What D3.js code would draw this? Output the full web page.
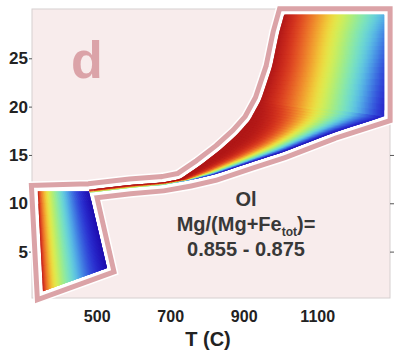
<!DOCTYPE html>
<html>
<head>
<meta charset="utf-8">
<script src="https://cdn.jsdelivr.net/npm/d3@7"></script>
<style>
  body { margin: 0; background: #fff; }
  svg text { font-family: "Liberation Sans", Arial, sans-serif; font-weight: bold; }
</style>
</head>
<body>
<div id="chart"></div>
<script>
// ---------- DATA (T in C, P) ----------
const xTicks = [500, 700, 900, 1100];
const yTicks = [5, 10, 15, 20, 25];

// low-T field (left block): cold edge and hot edge, top -> bottom
const leftEdge = [[339.5, 11.25], [353.8, 0.9]];
const rightEdge = [[479.0, 11.25], [528.0, 3.3]];

// high-T field, read as matched pairs across the field (upper edge <-> lower/right edge)
const upperT = [479, 590.6, 680, 727, 781, 835.5, 882, 917, 947, 977, 996, 1010];
const upperP = [11.4, 11.9, 12.15, 12.5, 13.9, 15.5, 17.1, 18.6, 20.7, 24.1, 27.6, 29.5];
const lowerT = [481, 590.6, 680, 754, 822, 917, 1007, 1143, 1282, 1282, 1282, 1282];
const lowerP = [11.1, 11.6, 11.9, 12.4, 13.0, 14.2, 15.3, 17.3, 19.0, 24.1, 27.6, 29.5];
// colour spread along each pair (how fast it leaves red, and how far toward blue it reaches)
const fieldGamma = [2.6, 2.6, 2.6, 2.8, 3.0, 3.0, 2.7, 1.8, 1.05, 1.0, 0.95, 0.9];
const fieldMax = [0.6, 0.6, 0.7, 0.9, 1, 1, 1, 0.97, 0.93, 0.85, 0.78, 0.72];

const jetStops = ['#b01818', '#d42e1e', '#ea6428', '#f4a830', '#eeee44', '#b2ee70', '#7ce8bc', '#5cc6ea', '#3c70e2', '#2a2ad2', '#1e0eae'];

const labelLines = ['Ol', '0.855 - 0.875'];

// ---------- SETUP ----------
const width = 397, height = 352;
const plot = { left: 32, right: 390, top: 9, bottom: 298 };

const svg = d3.select('#chart').append('svg')
  .attr('width', width).attr('height', height);

const x = d3.scaleLinear().domain([324, 1298]).range([plot.left, plot.right]);
const y = d3.scaleLinear().domain([0.2, 30.1]).range([plot.bottom, plot.top]);
const jet = d3.interpolateRgbBasis(jetStops);

// background panel
svg.append('rect')
  .attr('x', plot.left).attr('y', plot.top)
  .attr('width', plot.right - plot.left).attr('height', plot.bottom - plot.top)
  .attr('fill', '#f8ecec').attr('stroke', '#d6d0d0').attr('stroke-width', 1);

// big "d"
svg.append('text')
  .attr('x', 71).attr('y', 78)
  .style('font-size', '52px').attr('fill', '#dba3a8')
  .text('d');

// ---------- AXES ----------
const gy = svg.append('g').attr('transform', `translate(${plot.left},0)`)
  .call(d3.axisLeft(y).tickValues(yTicks).tickSize(3).tickPadding(1));
const gyr = svg.append('g').attr('transform', `translate(${plot.right},0)`)
  .call(d3.axisRight(y).tickValues(yTicks).tickSize(4).tickFormat(''));
const gx = svg.append('g').attr('transform', `translate(0,${plot.bottom})`)
  .call(d3.axisBottom(x).tickValues(xTicks).tickSize(0).tickPadding(13).tickFormat(d3.format('d')));

[gy, gyr, gx].forEach(g => {
  g.select('.domain').remove();
  g.selectAll('line').attr('stroke', '#555');
  g.selectAll('text').attr('fill', '#222').style('font-size', '16px');
});
gy.selectAll('text').style('font-size', '17px');

svg.append('text')
  .attr('x', 208).attr('y', 346)
  .attr('text-anchor', 'middle')
  .style('font-size', '20px').attr('fill', '#222')
  .text('T (C)');

// ---------- OUTLINE ----------
const upper = upperT.map((t, i) => [x(t), y(upperP[i])]);
const lower = lowerT.map((t, i) => [x(t), y(lowerP[i])]);
const lBlk = leftEdge.map(d => [x(d[0]), y(d[1])]);
const rBlk = rightEdge.map(d => [x(d[0]), y(d[1])]);

const outlinePts = [lBlk[0]].concat(upper, lower.slice().reverse(), [rBlk[1], lBlk[1]]);
const outline = d3.line()(outlinePts) + 'Z';

[[20, '#ffffff'], [17, '#dba3a7'], [7, '#ffffff']].forEach(([w, c]) => {
  svg.append('path').attr('d', outline)
    .attr('fill', c).attr('stroke', c)
    .attr('stroke-width', w).attr('stroke-linejoin', 'miter');
});

// ---------- COLOUR FIELDS ----------
const lerp = (a, b, f) => a + f * (b - a);
const lerpPt = (a, b, f) => [lerp(a[0], b[0], f), lerp(a[1], b[1], f)];

// draws a mesh between two matched edges a[] and b[]; colour index = max * f^gamma
// each cell reaches over its next neighbours, which paint over it, so no seams show
function drawField(a, b, gam, cmax, sub, bands) {
  const g = svg.append('g');
  const rows = [];
  for (let i = 0; i < a.length - 1; i++) {
    for (let s = 0; s < sub; s++) {
      const f = s / sub;
      rows.push({ a: lerpPt(a[i], a[i + 1], f), b: lerpPt(b[i], b[i + 1], f),
        gam: lerp(gam[i], gam[i + 1], f), max: lerp(cmax[i], cmax[i + 1], f) });
    }
  }
  const n = a.length - 1;
  rows.push({ a: a[n], b: b[n], gam: gam[n], max: cmax[n] });

  for (let r = 0; r < rows.length - 1; r++) {
    const r0 = rows[r], r1 = rows[r + 1], r2 = rows[Math.min(r + 2, rows.length - 1)];
    const gm = (r0.gam + r1.gam) / 2, mx = (r0.max + r1.max) / 2;
    for (let k = 0; k < bands; k++) {
      const f0 = k / bands, f1 = (k + 1) / bands, f2 = Math.min(1, (k + 2) / bands);
      const pts = [lerpPt(r0.a, r0.b, f0), lerpPt(r0.a, r0.b, f2), lerpPt(r2.a, r2.b, f2), lerpPt(r2.a, r2.b, f0)];
      const col = jet(mx * Math.pow((f0 + f1) / 2, gm));
      g.append('path')
        .attr('d', d3.line()(pts) + 'Z')
        .attr('fill', col);
    }
  }
}

drawField(lBlk, rBlk, [0.55, 0.55], [1, 1], 8, 80);
drawField(upper, lower, fieldGamma, fieldMax, 8, 90);

// ---------- LABEL ----------
const lab = svg.append('g').attr('fill', '#383838').attr('text-anchor', 'middle').style('font-size', '20px');
lab.append('text').attr('x', 246).attr('y', 206).text(labelLines[0]);
const mid = lab.append('text').attr('x', 246).attr('y', 231);
mid.append('tspan').text('Mg/(Mg+Fe');
mid.append('tspan').attr('dy', 5).style('font-size', '12px').text('tot');
mid.append('tspan').attr('dy', -5).text(')=');
lab.append('text').attr('x', 246).attr('y', 256).text(labelLines[1]);
</script>
</body>
</html>
